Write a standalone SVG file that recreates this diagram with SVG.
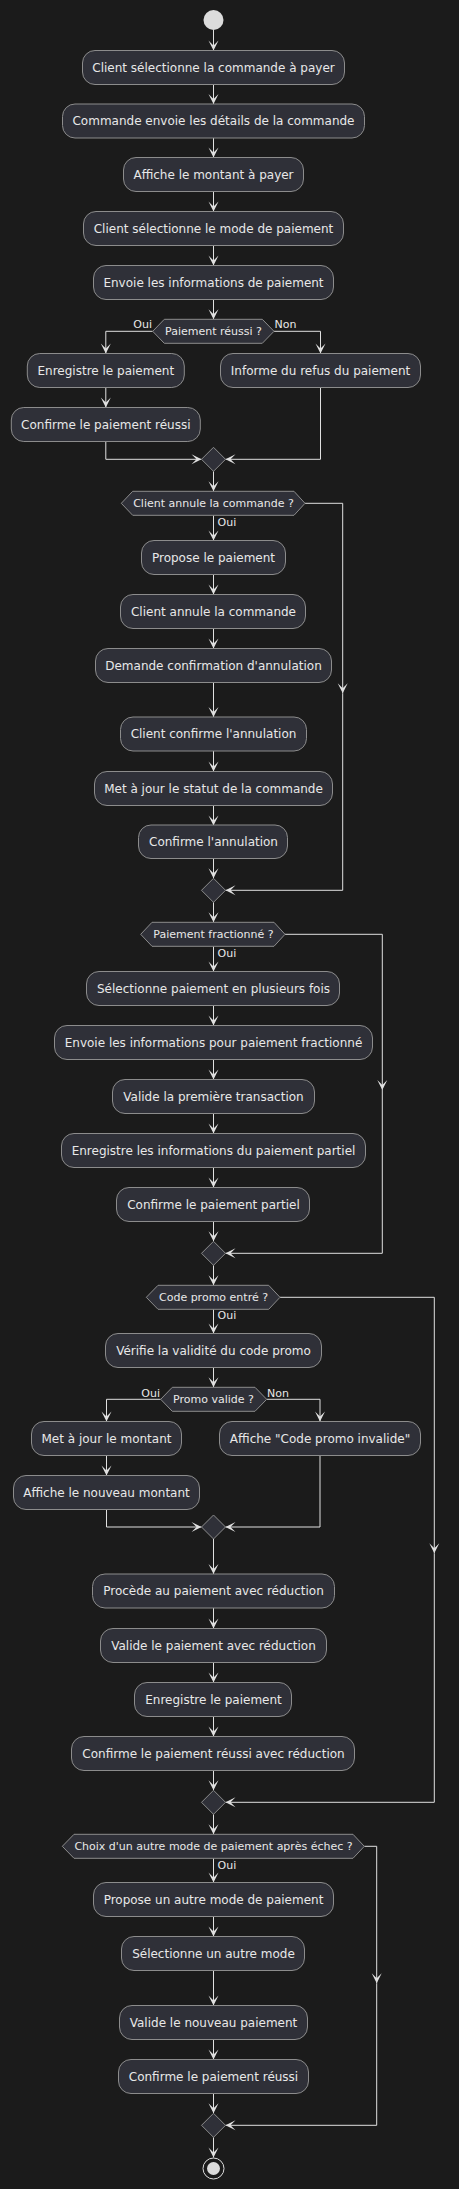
<svg xmlns="http://www.w3.org/2000/svg" width="459" height="2189" viewBox="0 0 459 2189">
<style>
.n{fill:#2f3038;stroke:#8c8c8c;stroke-width:1}
.t{font-family:"DejaVu Sans",sans-serif;font-size:12px;fill:#e8e8e8;text-anchor:middle}
.h{font-family:"DejaVu Sans",sans-serif;font-size:11px;fill:#e8e8e8;text-anchor:middle}
.l{font-family:"DejaVu Sans",sans-serif;font-size:11px;fill:#e8e8e8}
.c{fill:none;stroke:#e0e0e0;stroke-width:1}
</style>
<defs>
<marker id="a" viewBox="-11 -6 12 12" refX="0" refY="0" markerWidth="12" markerHeight="12" markerUnits="userSpaceOnUse" orient="auto" overflow="visible">
<path d="M0,0 L-10,-5 L-5,0 L-10,5 Z" fill="#e0e0e0"/>
</marker>
</defs>
<rect width="459" height="2189" fill="#1b1b1b"/>

<g id="connectors" marker-end="url(#a)">
<path class="c" d="M213.5,30 V50.5"/>
<path class="c" d="M213.5,84.5 V104"/>
<path class="c" d="M213.5,138 V157.5"/>
<path class="c" d="M213.5,191.5 V211.5"/>
<path class="c" d="M213.5,245.5 V265.5"/>
<path class="c" d="M213.5,299.5 V319.3"/>
<path class="c" d="M152.7,331.3 H105.8 V353.5"/>
<path class="c" d="M274,331.3 H320.5 V353.5"/>
<path class="c" d="M105.8,387.5 V407.5"/>
<path class="c" d="M105.8,441.5 V459.3 H201.5"/>
<path class="c" d="M320.5,387.5 V459.3 H225.5"/>
<path class="c" d="M213.5,471.3 V491.3"/>
<path class="c" d="M213.5,515.3 V540.5"/>
<path class="c" d="M305,503.3 H342.7 V693.3"/>
<path class="c" d="M342.7,693.3 V890.3 H225.5"/>
<path class="c" d="M213.5,574.5 V594.5"/>
<path class="c" d="M213.5,628.5 V648.5"/>
<path class="c" d="M213.5,682.5 V717"/>
<path class="c" d="M213.5,751 V771.5"/>
<path class="c" d="M213.5,805.5 V825.5"/>
<path class="c" d="M213.5,858.5 V878.3"/>
<path class="c" d="M213.5,902.3 V922.3"/>
<path class="c" d="M213.5,946.3 V971.5"/>
<path class="c" d="M285,934.3 H382.3 V1090"/>
<path class="c" d="M382.3,1090 V1253.3 H225.5"/>
<path class="c" d="M213.5,1005.5 V1025.5"/>
<path class="c" d="M213.5,1059.5 V1079.5"/>
<path class="c" d="M213.5,1113.5 V1133.5"/>
<path class="c" d="M213.5,1167.5 V1187.5"/>
<path class="c" d="M213.5,1221.5 V1241.3"/>
<path class="c" d="M213.5,1265.3 V1285.3"/>
<path class="c" d="M213.5,1309.3 V1333.5"/>
<path class="c" d="M280,1297.3 H434.3 V1553.3"/>
<path class="c" d="M434.3,1553.3 V1802.3 H225.5"/>
<path class="c" d="M213.5,1367.5 V1387.3"/>
<path class="c" d="M160.7,1399.3 H106.5 V1421.5"/>
<path class="c" d="M266.7,1399.3 H320 V1421.5"/>
<path class="c" d="M106.5,1455.5 V1475.5"/>
<path class="c" d="M106.5,1509.5 V1527 H201.5"/>
<path class="c" d="M320,1455.5 V1527 H225.5"/>
<path class="c" d="M213.5,1539 V1574"/>
<path class="c" d="M213.5,1608 V1628.5"/>
<path class="c" d="M213.5,1662.5 V1682.5"/>
<path class="c" d="M213.5,1716.5 V1736.5"/>
<path class="c" d="M213.5,1770.5 V1790.3"/>
<path class="c" d="M213.5,1814.3 V1834.3"/>
<path class="c" d="M213.5,1858.3 V1882.5"/>
<path class="c" d="M364.3,1846.3 H376.7 V1983.3"/>
<path class="c" d="M376.7,1983.3 V2125.3 H225.5"/>
<path class="c" d="M213.5,1916.5 V1936.5"/>
<path class="c" d="M213.5,1970.5 V2005.5"/>
<path class="c" d="M213.5,2039.5 V2059.5"/>
<path class="c" d="M213.5,2093.5 V2113.3"/>
<path class="c" d="M213.5,2137.3 V2157.5"/>
</g>

<g id="start"><circle cx="213.5" cy="20" r="10" fill="#dcdcdc"/></g>

<g id="n1"><rect class="n" x="82.5" y="50.5" width="262" height="34" rx="12.5"/><text class="t" x="213.5" y="71.5">Client sélectionne la commande à payer</text></g>
<g id="n2"><rect class="n" x="62.5" y="104" width="302" height="34" rx="12.5"/><text class="t" x="213.5" y="125">Commande envoie les détails de la commande</text></g>
<g id="n3"><rect class="n" x="123.5" y="157.5" width="180" height="34" rx="12.5"/><text class="t" x="213.5" y="178.5">Affiche le montant à payer</text></g>
<g id="n4"><rect class="n" x="83.5" y="211.5" width="260" height="34" rx="12.5"/><text class="t" x="213.5" y="232.5">Client sélectionne le mode de paiement</text></g>
<g id="n5"><rect class="n" x="93.5" y="265.5" width="240" height="34" rx="12.5"/><text class="t" x="213.5" y="286.5">Envoie les informations de paiement</text></g>

<g id="d1"><polygon class="n" points="152.7,331.3 164.3,319.3 262.3,319.3 274,331.3 262.3,343.3 164.3,343.3"/><text class="h" x="213.5" y="335.3">Paiement réussi ?</text><text class="l" x="152" y="328" text-anchor="end">Oui</text><text class="l" x="274.5" y="328">Non</text></g>
<g id="n6"><rect class="n" x="27.3" y="353.5" width="157" height="34" rx="12.5"/><text class="t" x="105.8" y="374.5">Enregistre le paiement</text></g>
<g id="n7"><rect class="n" x="220.5" y="353.5" width="200" height="34" rx="12.5"/><text class="t" x="320.5" y="374.5">Informe du refus du paiement</text></g>
<g id="n8"><rect class="n" x="11.3" y="407.5" width="189" height="34" rx="12.5"/><text class="t" x="105.8" y="428.5">Confirme le paiement réussi</text></g>
<g id="m1"><polygon class="n" points="213.5,447.3 225.5,459.3 213.5,471.3 201.5,459.3"/></g>

<g id="d2"><polygon class="n" points="121.3,503.3 132.7,491.3 294,491.3 305,503.3 294,515.3 132.7,515.3"/><text class="h" x="213.5" y="507.3">Client annule la commande ?</text><text class="l" x="217.5" y="525.5">Oui</text></g>
<g id="n9"><rect class="n" x="141.5" y="540.5" width="144" height="34" rx="12.5"/><text class="t" x="213.5" y="561.5">Propose le paiement</text></g>
<g id="n10"><rect class="n" x="120.5" y="594.5" width="185" height="34" rx="12.5"/><text class="t" x="213.5" y="615.5">Client annule la commande</text></g>
<g id="n11"><rect class="n" x="95.5" y="648.5" width="236" height="34" rx="12.5"/><text class="t" x="213.5" y="669.5">Demande confirmation d'annulation</text></g>
<g id="n12"><rect class="n" x="120.5" y="717" width="186" height="34" rx="12.5"/><text class="t" x="213.5" y="738">Client confirme l'annulation</text></g>
<g id="n13"><rect class="n" x="94.5" y="771.5" width="238" height="34" rx="12.5"/><text class="t" x="213.5" y="792.5">Met à jour le statut de la commande</text></g>
<g id="n14"><rect class="n" x="138.5" y="825" width="149" height="33.5" rx="12.5"/><text class="t" x="213.5" y="846">Confirme l'annulation</text></g>
<g id="m2"><polygon class="n" points="213.5,878.3 225.5,890.3 213.5,902.3 201.5,890.3"/></g>

<g id="d3"><polygon class="n" points="140.7,934.3 152,922.3 274,922.3 285,934.3 274,946.3 152,946.3"/><text class="h" x="213.5" y="938.3">Paiement fractionné ?</text><text class="l" x="217.5" y="956.5">Oui</text></g>
<g id="n15"><rect class="n" x="86.5" y="971.5" width="253" height="34" rx="12.5"/><text class="t" x="213.5" y="992.5">Sélectionne paiement en plusieurs fois</text></g>
<g id="n16"><rect class="n" x="54.5" y="1025.5" width="318" height="34" rx="12.5"/><text class="t" x="213.5" y="1046.5">Envoie les informations pour paiement fractionné</text></g>
<g id="n17"><rect class="n" x="112.5" y="1079.5" width="202" height="34" rx="12.5"/><text class="t" x="213.5" y="1100.5">Valide la première transaction</text></g>
<g id="n18"><rect class="n" x="61.5" y="1133.5" width="304" height="34" rx="12.5"/><text class="t" x="213.5" y="1154.5">Enregistre les informations du paiement partiel</text></g>
<g id="n19"><rect class="n" x="116.5" y="1187.5" width="193" height="34" rx="12.5"/><text class="t" x="213.5" y="1208.5">Confirme le paiement partiel</text></g>
<g id="m3"><polygon class="n" points="213.5,1241.3 225.5,1253.3 213.5,1265.3 201.5,1253.3"/></g>

<g id="d4"><polygon class="n" points="146.3,1297.3 158,1285.3 268.7,1285.3 280,1297.3 268.7,1309.3 158,1309.3"/><text class="h" x="213.5" y="1301.3">Code promo entré ?</text><text class="l" x="217.5" y="1319">Oui</text></g>
<g id="n20"><rect class="n" x="105.5" y="1333.5" width="216" height="34" rx="12.5"/><text class="t" x="213.5" y="1354.5">Vérifie la validité du code promo</text></g>
<g id="d5"><polygon class="n" points="160.7,1399.3 172.3,1387.3 255,1387.3 266.7,1399.3 255,1411.3 172.3,1411.3"/><text class="h" x="213.5" y="1403.3">Promo valide ?</text><text class="l" x="160" y="1396.5" text-anchor="end">Oui</text><text class="l" x="267" y="1396.5">Non</text></g>
<g id="n21"><rect class="n" x="31.5" y="1421.5" width="150" height="34" rx="12.5"/><text class="t" x="106.5" y="1442.5">Met à jour le montant</text></g>
<g id="n22"><rect class="n" x="219.5" y="1421.5" width="201" height="34" rx="12.5"/><text class="t" x="320" y="1442.5">Affiche "Code promo invalide"</text></g>
<g id="n23"><rect class="n" x="13.5" y="1475.5" width="186" height="34" rx="12.5"/><text class="t" x="106.5" y="1496.5">Affiche le nouveau montant</text></g>
<g id="m4"><polygon class="n" points="213.5,1515 225.5,1527 213.5,1539 201.5,1527"/></g>
<g id="n24"><rect class="n" x="92.5" y="1574" width="242" height="34" rx="12.5"/><text class="t" x="213.5" y="1595">Procède au paiement avec réduction</text></g>
<g id="n25"><rect class="n" x="100.5" y="1628.5" width="226" height="34" rx="12.5"/><text class="t" x="213.5" y="1649.5">Valide le paiement avec réduction</text></g>
<g id="n26"><rect class="n" x="134.5" y="1682.5" width="157" height="34" rx="12.5"/><text class="t" x="213.5" y="1703.5">Enregistre le paiement</text></g>
<g id="n27"><rect class="n" x="71.5" y="1736.5" width="283" height="34" rx="12.5"/><text class="t" x="213.5" y="1757.5">Confirme le paiement réussi avec réduction</text></g>
<g id="m5"><polygon class="n" points="213.5,1790.3 225.5,1802.3 213.5,1814.3 201.5,1802.3"/></g>

<g id="d6"><polygon class="n" points="62.3,1846.3 74,1834.3 353,1834.3 364.3,1846.3 353,1858.3 74,1858.3"/><text class="h" x="213.5" y="1850.3">Choix d'un autre mode de paiement après échec ?</text><text class="l" x="217.5" y="1868.5">Oui</text></g>
<g id="n28"><rect class="n" x="93.5" y="1882.5" width="240" height="34" rx="12.5"/><text class="t" x="213.5" y="1903.5">Propose un autre mode de paiement</text></g>
<g id="n29"><rect class="n" x="121.5" y="1936.5" width="183" height="34" rx="12.5"/><text class="t" x="213.5" y="1957.5">Sélectionne un autre mode</text></g>
<g id="n30"><rect class="n" x="119.5" y="2005.5" width="188" height="34" rx="12.5"/><text class="t" x="213.5" y="2026.5">Valide le nouveau paiement</text></g>
<g id="n31"><rect class="n" x="118.5" y="2059.5" width="190" height="34" rx="12.5"/><text class="t" x="213.5" y="2080.5">Confirme le paiement réussi</text></g>
<g id="m6"><polygon class="n" points="213.5,2113.3 225.5,2125.3 213.5,2137.3 201.5,2125.3"/></g>

<g id="end"><circle cx="213.5" cy="2168.5" r="10.5" fill="none" stroke="#dcdcdc" stroke-width="1"/><circle cx="213.5" cy="2168.5" r="6.5" fill="#dcdcdc"/></g>
</svg>
